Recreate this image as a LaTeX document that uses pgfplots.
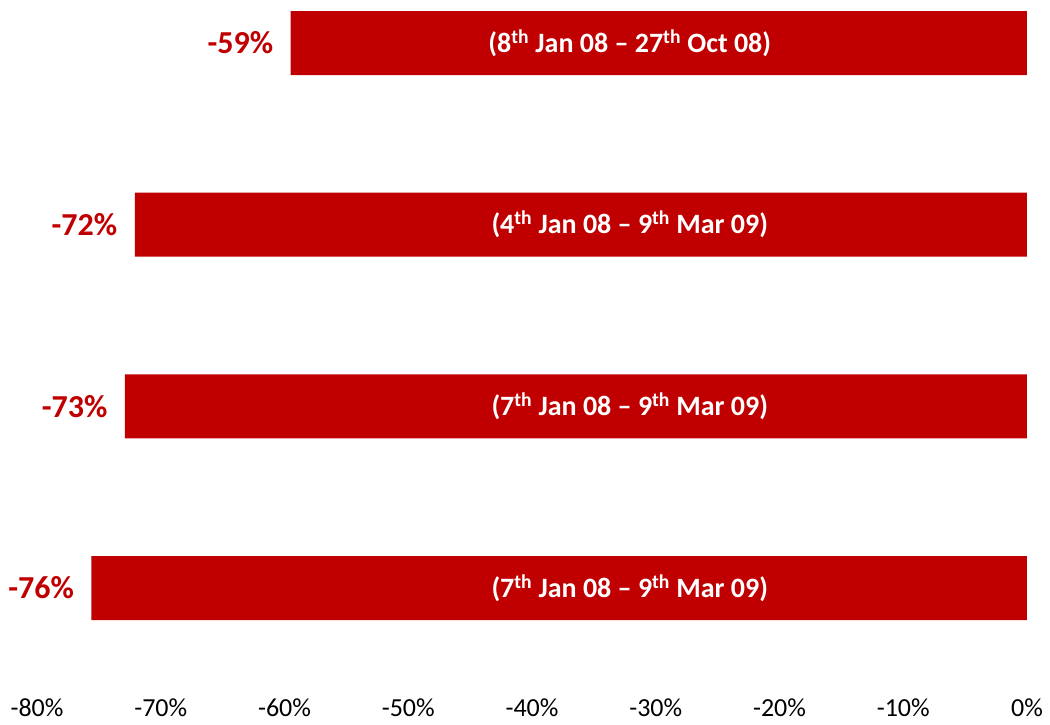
\documentclass[border=0pt]{standalone}
\usepackage{pgfplots}
\pgfplotsset{compat=1.18}
\usepackage{fontspec}
\setmainfont{Carlito}
\definecolor{barred}{RGB}{192,0,0}
\begin{document}
\begin{tikzpicture}[x=1pt,y=1pt]
\begin{axis}[
  at={(0,0)}, anchor=south west,
  scale only axis,
  width=990pt, height=697pt,
  xbar, bar width=64pt,
  xmin=-80, xmax=0,
  ymin=-0.6, ymax=3.237,
  xtick={-80,-70,-60,-50,-40,-30,-20,-10,0},
  xticklabels={-80\%,-70\%,-60\%,-50\%,-40\%,-30\%,-20\%,-10\%,0\%},
  ytick=\empty,
  axis line style={draw=none},
  major tick length=0pt,
  tick label style={font=\fontsize{26}{30}\selectfont, text=black},
  xticklabel style={yshift=2pt},
  clip=false,
  point meta=explicit symbolic,
  nodes near coords={\pgfplotspointmeta\%},
  nodes near coords style={anchor=east, xshift=-14pt, text=barred, font=\bfseries\fontsize{32}{36}\selectfont},
]
\addplot[fill=barred, draw=none] table[meta=m] {
x y m
-75.6 0 -76
-72.9 1 -73
-72.1 2 -72
-59.5 3 -59
};
\tikzset{bartext/.style={text=white, font=\bfseries\fontsize{28}{32}\selectfont}}
\node[bartext] at (axis cs:-32.1,3) {(8\textsuperscript{th} Jan 08 -- 27\textsuperscript{th} Oct 08)};
\node[bartext] at (axis cs:-32.1,2) {(4\textsuperscript{th} Jan 08 -- 9\textsuperscript{th} Mar 09)};
\node[bartext] at (axis cs:-32.1,1) {(7\textsuperscript{th} Jan 08 -- 9\textsuperscript{th} Mar 09)};
\node[bartext] at (axis cs:-32.1,0) {(7\textsuperscript{th} Jan 08 -- 9\textsuperscript{th} Mar 09)};
\end{axis}
\pgfresetboundingbox
\path[use as bounding box] (-37,-27) rectangle (1013,697);
\end{tikzpicture}
\end{document}
